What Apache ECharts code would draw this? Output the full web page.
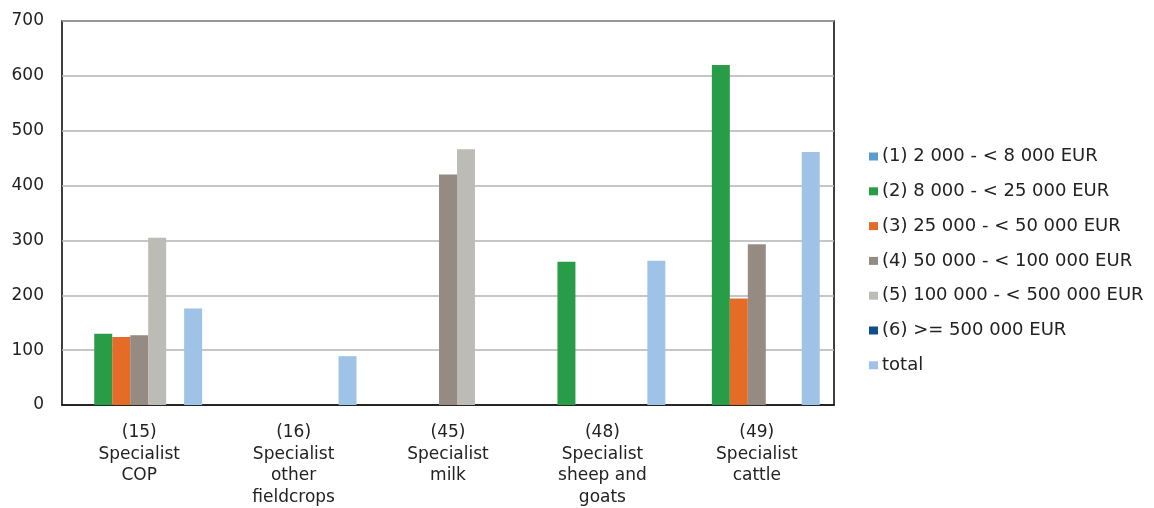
<!DOCTYPE html>
<html>
<head>
<meta charset="utf-8">
<script src="https://cdn.jsdelivr.net/npm/echarts@6/dist/echarts.min.js"></script>
<style>
  html, body { margin: 0; padding: 0; background: #fff; }
  #chart { width: 1154px; height: 508px; }
</style>
</head>
<body>
<div id="chart"></div>
<script>
// categories on the x axis
const categories = [
  "(15)\nSpecialist\nCOP",
  "(16)\nSpecialist\nother\nfieldcrops",
  "(45)\nSpecialist\nmilk",
  "(48)\nSpecialist\nsheep and\ngoats",
  "(49)\nSpecialist\ncattle"
];
const seriesNames = [
  "(1) 2 000 - < 8 000 EUR",
  "(2) 8 000 - < 25 000 EUR",
  "(3) 25 000 - < 50 000 EUR",
  "(4) 50 000 - < 100 000 EUR",
  "(5) 100 000 - < 500 000 EUR",
  "(6) >= 500 000 EUR",
  "total"
];
const colors = ["#5b9bd0", "#289c47", "#e46c27", "#958b83", "#bcbbb5", "#0e4c8b", "#9fc3e7"];
// values per series (null = no bar)
const class1 = [null, null, null, null, null];
const class2 = [130, null, null, 261, 620];
const class3 = [124, null, null, null, 194];
const class4 = [127, null, 420, null, 293];
const class5 = [305, null, 466, null, null];
const class6 = [null, null, null, null, null];
const total = [176, 89, null, 263, 461];
const seriesValues = [class1, class2, class3, class4, class5, class6, total];

const chart = echarts.init(document.getElementById("chart"));
const font = "DejaVu Sans";

chart.setOption({
  animation: false,
  color: colors,
  grid: {
    left: 62,
    top: 21,
    width: 772,
    height: 388,
    show: true,
    borderColor: "#000",
    borderWidth: 1.5,
    backgroundColor: "transparent"
  },
  legend: {
    orient: "vertical",
    left: 864,
    top: 142.5,
    itemWidth: 9,
    itemHeight: 8,
    itemGap: 16.8,
    icon: "rect",
    textStyle: { fontFamily: font, fontSize: 18, color: "#222", padding: [0, 0, 0, -1] },
    data: seriesNames
  },
  xAxis: {
    type: "category",
    data: categories,
    axisLine: { lineStyle: { color: "#000", width: 1.5 } },
    axisTick: { show: false },
    axisLabel: {
      fontFamily: font,
      fontSize: 17,
      color: "#222",
      lineHeight: 21.5,
      margin: 17,
      interval: 0
    }
  },
  yAxis: {
    type: "value",
    min: 0,
    max: 700,
    interval: 100,
    axisLine: { show: false },
    axisTick: { show: false },
    splitLine: { lineStyle: { color: "#b3b3b3", width: 1.5 } },
    axisLabel: { fontFamily: font, fontSize: 17, color: "#222", margin: 18, padding: [0, 0, 8, 0] }
  },
  series: seriesNames.map((name, i) => ({
    name: name,
    type: "bar",
    data: seriesValues[i],
    barGap: "0%",
    barCategoryGap: "18.5%",
    itemStyle: { color: colors[i] }
  }))
});
</script>
</body>
</html>
